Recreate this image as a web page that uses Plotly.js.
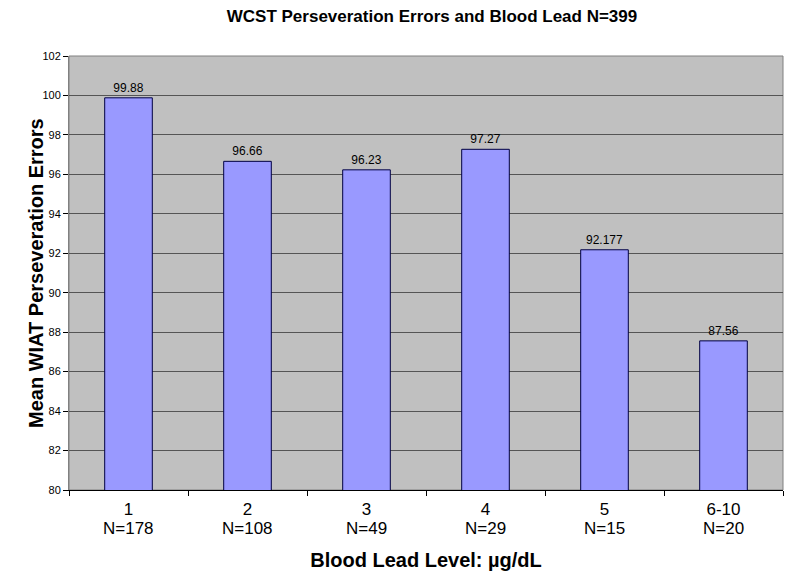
<!DOCTYPE html>
<html>
<head>
<meta charset="utf-8">
<script src="https://cdn.plot.ly/plotly-3.0.1.min.js"></script>
<style>html,body{margin:0;padding:0;background:#fff;}#chart{width:800px;height:587px;}</style>
</head>
<body>
<div id="chart"></div>
<script>
const categories = ["1", "2", "3", "4", "5", "6-10"];
const sampleSizes = ["N=178", "N=108", "N=49", "N=29", "N=15", "N=20"];
const meanErrors = [99.88, 96.66, 96.23, 97.27, 92.177, 87.56];
const valueLabels = ["99.88", "96.66", "96.23", "97.27", "92.177", "87.56"];

const trace = {
  type: 'bar',
  x: categories,
  y: meanErrors,
  text: valueLabels,
  texttemplate: '%{text}',
  textposition: 'outside',
  cliponaxis: false,
  textfont: {family: 'Liberation Sans, Arial, sans-serif', size: 12, color: '#000'},
  marker: {color: '#9999FF', line: {color: '#000040', width: 1}},
  hoverinfo: 'none'
};

// second line of each category label (sample size), placed under the category tick label
const nAnnotations = sampleSizes.map((n, i) => ({
  text: n,
  xref: 'x', yref: 'paper', x: i, y: 0,
  xanchor: 'center', yanchor: 'middle', yshift: -38,
  showarrow: false,
  font: {size: 17, color: '#000'}
}));

const layout = {
  width: 800, height: 587,
  margin: {l: 69, r: 17, t: 56, b: 97},
  paper_bgcolor: '#ffffff',
  plot_bgcolor: '#C0C0C0',
  font: {family: 'Liberation Sans, Arial, sans-serif', color: '#000'},
  bargap: 0.6,
  showlegend: false,
  title: {
    text: '<b>WCST Perseveration Errors and Blood Lead N=399</b>',
    font: {size: 17, color: '#000'},
    x: 0.54, xanchor: 'center', y: 0.972, yanchor: 'middle'
  },
  xaxis: {
    type: 'category',
    tickfont: {size: 17},
    ticks: 'outside', tickson: 'boundaries', ticklen: 5, tickcolor: '#000',
    ticklabelstandoff: 4,
    showline: true, linecolor: '#000', linewidth: 1,
    showgrid: false, zeroline: false,
    title: {text: '<b>Blood Lead Level: µg/dL</b>', font: {size: 20}, standoff: 34},
    automargin: false,
    mirror: false
  },
  yaxis: {
    range: [80, 102], dtick: 2, tick0: 80,
    tickfont: {size: 11},
    ticks: 'outside', ticklen: 5, tickcolor: '#000',
    showline: true, linecolor: '#808080', linewidth: 1,
    showgrid: true, gridcolor: '#555555', gridwidth: 1,
    zeroline: false
  },
  annotations: [{
    text: '<b>Mean WIAT Perseveration Errors</b>',
    xref: 'paper', yref: 'paper', x: 0, y: 0.5,
    xanchor: 'center', yanchor: 'middle', xshift: -33,
    textangle: -90, showarrow: false,
    font: {size: 20, color: '#000'}
  }].concat(nAnnotations),
  shapes: [{
    type: 'rect', xref: 'paper', yref: 'paper', x0: 0, x1: 1, y0: 0, y1: 1,
    line: {color: '#808080', width: 1}, fillcolor: 'rgba(0,0,0,0)', layer: 'below'
  }]
};

Plotly.newPlot('chart', [trace], layout, {displayModeBar: false, staticPlot: true});
</script>
</body>
</html>
